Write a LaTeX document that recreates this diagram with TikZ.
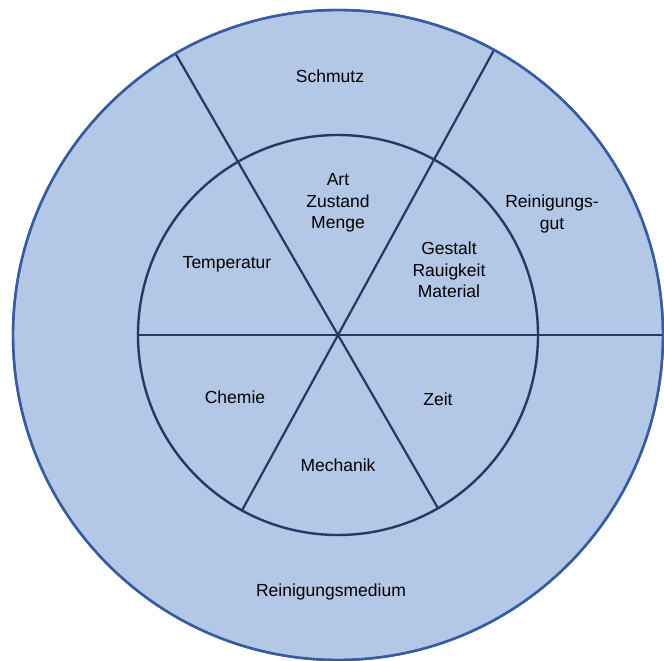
\documentclass[tikz,border=0pt]{standalone}
\usepackage{fontspec}
\setmainfont{Liberation Sans}
\usetikzlibrary{calc}
\definecolor{fillblue}{RGB}{179,199,230}
\definecolor{outerblue}{RGB}{56,92,160}
\definecolor{lineblue}{RGB}{35,57,102}
\begin{document}
\begin{tikzpicture}[x=1pt,y=-1pt,
  lab/.style={align=center,font=\fontsize{17.5}{21.7}\selectfont,text=black,inner sep=0pt},
  spoke/.style={draw=lineblue,line width=2.2pt},
  ring/.style={draw=lineblue,line width=2.4pt},
  outerring/.style={draw=outerblue,line width=2.4pt,fill=fillblue}]
\useasboundingbox (0,0) rectangle (664,661);
\coordinate (c) at (338,335);
\path[outerring] (c) circle (325pt);
\coordinate (tl) at ($(c)+(120:325pt)$);
\coordinate (tr) at ($(c)+(61.3:325pt)$);
\coordinate (br) at ($(c)+(-60:200pt)$);
\coordinate (bl) at ($(c)+(-118.7:200pt)$);
\coordinate (l) at ($(c)+(180:200pt)$);
\coordinate (r) at ($(c)+(0:325pt)$);
\draw[spoke] (tl) -- (br);
\draw[spoke] (tr) -- (bl);
\draw[spoke] (l) -- (r);
\draw[ring] (c) circle (200pt);
\draw[draw=outerblue,line width=2.4pt] (c) circle (325pt);
\node[lab] (schmutz) at (330,76) {Schmutz};
\node[lab] (gut) at (552,214) {Reinigungs-\\gut};
\node[lab] (medium) at (331,592) {Reinigungsmedium};
\node[lab] (art) at (338,203) {Art\\Zustand\\Menge};
\node[lab] (gestalt) at (449,270) {Gestalt\\Rauigkeit\\Material};
\node[lab] (temp) at (227,264) {Temperatur};
\node[lab] (chemie) at (235,397) {Chemie};
\node[lab] (zeit) at (438,399) {Zeit};
\node[lab] (mech) at (338,465) {Mechanik};
\end{tikzpicture}
\end{document}
